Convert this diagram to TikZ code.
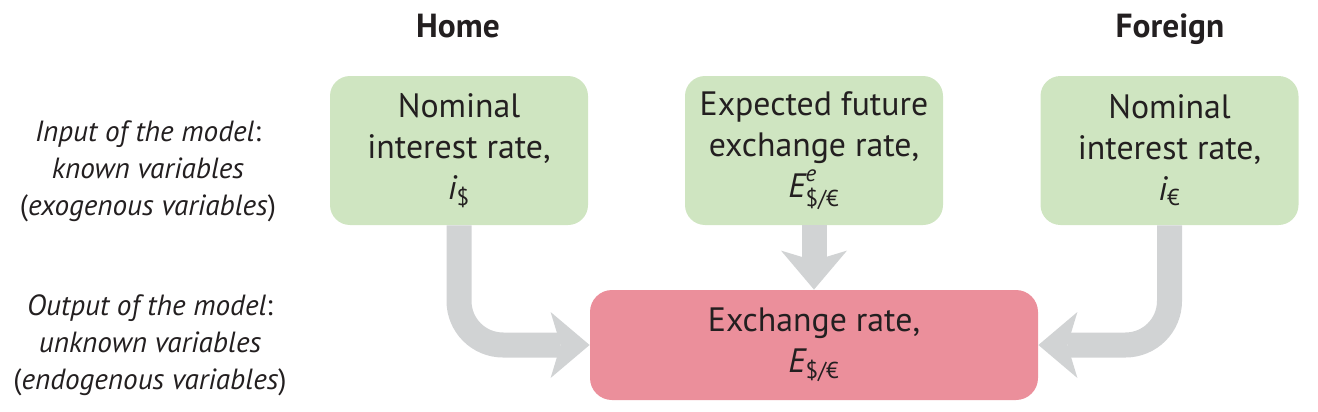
\documentclass[tikz,border=0pt]{standalone}
\usepackage{fontspec}
\setmainfont{PT Sans}
\usetikzlibrary{arrows.meta}
\definecolor{boxgreen}{HTML}{CFE5C1}
\definecolor{boxred}{HTML}{EB8F9B}
\definecolor{arrowgray}{HTML}{D1D3D4}
\definecolor{inkdark}{HTML}{231F20}
\newcommand\boxfont{\fontsize{16.9}{20.5}\selectfont}
\newcommand\subfont{\fontsize{11.5}{12}\selectfont}
\newcommand\sidefont{\fontsize{14.6}{18.5}\selectfont}
\newcommand\headfont{\fontsize{16.7}{20}\selectfont\bfseries}
\tikzset{
  inbox/.style={fill=boxgreen, rounded corners=10pt, minimum width=129pt, minimum height=74.5pt, align=center, font=\boxfont, text=inkdark, inner sep=0pt},
  outbox/.style={fill=boxred, rounded corners=11pt, minimum width=224pt, minimum height=55pt, align=center, font=\boxfont, text=inkdark, inner sep=0pt},
  flow/.style={draw=arrowgray, line width=12.5pt, rounded corners=22pt, -{Stealth[length=19.5pt,width=33pt,inset=5pt,line width=0pt]}},
  side/.style={align=center, font=\sidefont, text=inkdark},
  head/.style={font=\headfont, text=inkdark, anchor=base, inner sep=0pt}
}
\begin{document}
\begin{tikzpicture}[x=0.5pt,y=-0.5pt]
\useasboundingbox (0,0) rectangle (1318,412);
\node[head] (home) at (458,38) {Home};
\node[head] (foreign) at (1170,38) {Foreign};
\node[side] (inlab) at (148,171) {\textit{Input of the model}:\\ \textit{known variables}\\ (\textit{exogenous variables})};
\node[side] (outlab) at (150,345) {\textit{Output of the model}:\\ \textit{unknown variables}\\ (\textit{endogenous variables})};
\node[inbox] (ihome) at (459,150.5) {Nominal\\ interest rate,\\ $\mbox{\itshape i}_{\mbox{\subfont\$}}$};
\node[inbox] (eexp) at (814,150.5) {Expected future\\ exchange rate,\\ $\mbox{\itshape E}^{\raisebox{1pt}{\subfont\itshape e}}_{\mbox{\subfont\$/€}}$};
\node[inbox] (iforeign) at (1169.5,150.5) {Nominal\\ interest rate,\\ $\mbox{\itshape i}_{\mbox{\subfont €}}$};
\node[outbox] (erate) at (814,345) {Exchange rate,\\ $\mbox{\itshape E}_{\mbox{\subfont\$/€}}$};
\draw[flow] (ihome.south) |- (erate.west);
\draw[flow] (iforeign.south) |- (erate.east);
\draw[flow] (eexp.south) -- (erate.north);
\end{tikzpicture}
\end{document}
